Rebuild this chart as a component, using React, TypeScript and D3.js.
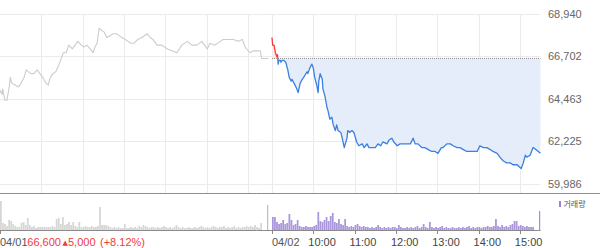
import React from "react";
import * as d3 from "d3";

// ---------- DATA ----------
const dates = ["04/01", "04/02"];
const hourLabels = ["10:00", "11:00", "12:00", "13:00", "14:00", "15:00"];
const yTicks = [59986, 62225, 64463, 66702, 68940];
const prevClose = 66600;
const change = 5000;
const changePct = 8.12;

const day1Times = ["09:00","09:01","09:03","09:04","09:07","09:10","09:13","09:15","09:17","09:22","09:26","09:29","09:32","09:35","09:38","09:41","09:45","09:49","09:54","09:58","10:02","10:07","10:10","10:13","10:17","10:21","10:26","10:29","10:32","10:36","10:40","10:45","10:49","10:53","10:58","11:02","11:06","11:11","11:15","11:18","11:21","11:24","11:27","11:31","11:35","11:40","11:44","11:49","11:53","11:57","12:02","12:06","12:10","12:15","12:20","12:26","12:34","12:38","12:42","12:48","12:55","13:03","13:10","13:17","13:24","13:32","13:39","13:46","13:53","14:01","14:05","14:12","14:20","14:24","14:31","14:39","14:46","14:52","14:56","15:03","15:08","15:13","15:18","15:20","15:30"];
const day1Prices = [64800,64900,64700,65000,64400,64400,65000,65600,65300,65200,65100,65200,65400,65600,66000,65900,65800,65800,66000,65800,65600,65300,65200,65600,65800,65900,66300,66600,66900,66900,67300,67100,67300,67500,67300,67200,67300,67100,66900,67200,67400,68200,68100,68000,67700,67800,67900,67900,67800,67700,67600,67500,67400,67400,67600,67700,67900,67700,67600,67300,67300,67100,67000,66900,67300,67500,67300,67300,67500,67100,67400,67300,67500,67600,67600,67600,67500,67600,67200,66900,67000,67000,67000,66600,66600];

const day2Times = ["09:00","09:01","09:03","09:05","09:07","09:08","09:09","09:10","09:12","09:13","09:15","09:17","09:20","09:23","09:25","09:28","09:29","09:32","09:36","09:38","09:41","09:44","09:46","09:51","09:52","09:55","09:58","10:00","10:02","10:05","10:07","10:08","10:10","10:13","10:14","10:17","10:20","10:21","10:24","10:27","10:29","10:32","10:34","10:36","10:40","10:42","10:45","10:49","10:50","10:53","10:56","10:59","11:03","11:06","11:11","11:14","11:18","11:21","11:25","11:30","11:34","11:38","11:41","11:47","11:50","11:54","11:57","12:02","12:06","12:10","12:16","12:21","12:25","12:28","12:32","12:38","12:42","12:47","12:52","12:57","13:01","13:06","13:08","13:14","13:19","13:23","13:29","13:33","13:38","13:43","13:48","13:52","13:58","14:02","14:07","14:12","14:17","14:21","14:27","14:31","14:36","14:41","14:46","14:50","14:56","14:59","15:02","15:05","15:08","15:10","15:15","15:19","15:20","15:30"];
const day2Prices = [67700,67300,67300,66900,66700,66800,66300,66500,66500,66400,66500,66500,66400,66000,65600,65400,65500,65300,65000,64800,65300,65500,65600,65900,65800,66100,66300,66100,65600,65200,64800,65400,65800,65500,65000,64600,64000,63900,63400,63500,63100,62800,63100,62800,62700,62400,61900,62400,62800,62700,62800,62700,62200,62000,62100,61900,62100,61900,61900,61900,62100,62000,62200,62100,62300,62400,62200,62000,62100,62100,62100,62100,62400,62100,62100,61900,61900,61800,61700,61700,61600,61900,61900,62100,62100,62000,61900,61900,61800,61700,61700,61700,61700,62000,61900,61900,61800,61700,61600,61400,61200,61100,61100,61000,61000,60900,60800,61100,61500,61400,61500,61900,61900,61600];

// volume (thousand shares) per 3-minute bucket from 09:00 to 15:20
const day1Volumes = [29,7,6,4,10,9,6,4,3,3,7,8,5,12,5,3,4,2,3,3,3,3,3,3,3,4,3,11,12,6,13,5,6,8,5,8,4,3,8,3,3,4,3,3,4,3,3,4,23,5,5,5,4,3,2,3,2,3,2,2,6,2,2,3,2,3,2,4,3,5,4,3,2,3,3,2,3,2,3,4,3,2,3,2,3,5,3,2,3,2,2,3,2,2,3,2,3,4,3,2,3,2,3,4,3,2,3,3,4,2,3,2,3,4,2,3,2,3,3,4,3,4,3,5,3,2,7];
const day2Volumes = [13,13,8,6,7,10,6,7,16,10,5,6,10,4,3,3,4,3,3,3,4,5,18,9,8,10,13,9,14,17,8,7,11,6,5,11,4,3,4,3,5,6,4,3,4,3,3,2,3,2,3,5,3,2,3,2,3,2,3,3,2,5,3,2,2,3,2,3,2,3,4,2,3,6,3,2,8,3,2,3,2,3,4,2,3,2,2,3,2,2,3,2,3,2,3,4,2,3,2,3,3,2,3,3,4,3,3,4,11,4,3,5,3,4,3,5,6,9,9,4,5,4,3,4,3,3,3];
// closing auction volume (15:30) of each day
const closingVolumes = [25, 19];

// ---------- LAYOUT ----------
const W = 600;
const H = 248;
const PLOT_R = 540.5;
const DAY_OFFSETS = [0, 395];
const BUCKET = 3;

const toMin = (t: string) => {
  const [h, m] = t.split(":").map(Number);
  return (h - 9) * 60 + m;
};

const FONT = "'Liberation Sans', Arial, sans-serif";

export default function App() {
  const x = d3.scaleLinear().domain([0, 785]).range([0, PLOT_R]);
  const y = d3.scaleLinear().domain([yTicks[0], yTicks[yTicks.length - 1]]).range([184, 14]);
  const yVol = d3.scaleLinear().domain([0, 30]).range([230, 200]);
  const fmt = d3.format(",");

  type Pt = { m: number; p: number };
  const d1: Pt[] = day1Times.map((t, i) => ({ m: DAY_OFFSETS[0] + toMin(t), p: day1Prices[i] }));
  const d2: Pt[] = day2Times.map((t, i) => ({ m: DAY_OFFSETS[1] + toMin(t), p: day2Prices[i] }));

  const line = d3.line<Pt>().x((d) => x(d.m)).y((d) => y(d.p));
  const yRef = y(prevClose);
  const area = d3.area<Pt>().x((d) => x(d.m)).y0(yRef).y1((d) => y(d.p));

  const day2Start = x(DAY_OFFSETS[1]);
  const day2End = x(DAY_OFFSETS[1] + 390);

  const vGrid: number[] = [];
  DAY_OFFSETS.forEach((off, di) => {
    if (di > 0) vGrid.push(x(off));
    hourLabels.forEach((h) => vGrid.push(x(off + toMin(h))));
  });

  const bw = x(BUCKET) - x(0);
  const volBars: { x: number; w: number; v: number; c: string }[] = [];
  [day1Volumes, day2Volumes].forEach((arr, di) => {
    const c = di === 0 ? "#d6d6d6" : "#ab96dc";
    arr.forEach((v, i) => volBars.push({ x: x(DAY_OFFSETS[di] + i * BUCKET), w: bw - 0.3, v, c }));
    volBars.push({ x: x(DAY_OFFSETS[di] + 390) - 1.5, w: 1.2, v: closingVolumes[di], c: di === 0 ? "#bdbdbd" : "#a48dd6" });
  });

  const crisp = (v: number) => Math.round(v) + 0.5;

  return (
    <svg width={W} height={H} style={{ position: "absolute", left: 0, top: 0, display: "block", background: "#fff" }} fontFamily={FONT}>
      <defs>
        <clipPath id="clipUp">
          <rect x={day2Start - 2} y={0} width={day2End - day2Start + 4} height={yRef} />
        </clipPath>
        <clipPath id="clipDown">
          <rect x={day2Start - 2} y={yRef} width={day2End - day2Start + 4} height={200 - yRef} />
        </clipPath>
      </defs>

      {/* grid */}
      {yTicks.map((t) => (
        <line key={"h" + t} x1={0} x2={PLOT_R} y1={crisp(y(t))} y2={crisp(y(t))} stroke="#ebebeb" />
      ))}
      {vGrid.map((gx, i) => (
        <line key={"v" + i} x1={crisp(gx)} x2={crisp(gx)} y1={14} y2={193} stroke="#ebebeb" />
      ))}

      {/* day 2 area */}
      <path d={area(d2) || ""} fill="#e5edfb" clipPath="url(#clipDown)" />
      <path d={area(d2) || ""} fill="#fde8e8" clipPath="url(#clipUp)" />
      <line x1={day2Start} x2={day2End} y1={yRef} y2={yRef} stroke="#8a8a8a" strokeDasharray="1,1" />

      {/* lines */}
      <path d={line(d1) || ""} fill="none" stroke="#cccccc" strokeWidth={1.1} strokeLinejoin="round" />
      <path d={line(d2) || ""} fill="none" stroke="#3b7fe0" strokeWidth={1.3} strokeLinejoin="round" clipPath="url(#clipDown)" />
      <path d={line(d2) || ""} fill="none" stroke="#f03c3c" strokeWidth={1.3} strokeLinejoin="round" clipPath="url(#clipUp)" />

      {/* right axis labels */}
      {yTicks.map((t) => (
        <text key={"yl" + t} x={548} y={y(t) + 4} fontSize={11} fill="#666">{fmt(t)}</text>
      ))}

      {/* separator */}
      <line x1={0} x2={W} y1={193.5} y2={193.5} stroke="#8f8f8f" />

      {/* volume */}
      {volBars.map((b, i) => (
        <rect key={"vb" + i} x={b.x} y={yVol(b.v)} width={b.w} height={230 - yVol(b.v)} fill={b.c} />
      ))}
      <line x1={0} x2={PLOT_R} y1={230.5} y2={230.5} stroke="#8a8a8a" />
      {[x(DAY_OFFSETS[0]), ...vGrid].map((tx, i) => (
        <line key={"tk" + i} x1={crisp(tx)} x2={crisp(tx)} y1={230} y2={234} stroke="#8a8a8a"
          opacity={i === 0 || i >= 7 ? 1 : 0} />
      ))}

      {/* legend */}
      <rect x={559} y={201} width={2} height={6} fill="#9b82d2" />
      <text x={563.5} y={206.5} fontSize={8} fill="#555" fontFamily="'Noto Sans CJK KR', sans-serif">거래량</text>

      {/* bottom labels */}
      <text x={0} y={246} fontSize={11} fill="#555">{dates[0]}</text>
      <text x={27.3} y={246} fontSize={11} fill="#f03c3c">{fmt(prevClose)}</text>
      <text x={62.5} y={245} fontSize={7} fill="#f03c3c" fontFamily="'DejaVu Sans', sans-serif">▲</text>
      <text x={68} y={246} fontSize={11} fill="#f03c3c">{fmt(change)}</text>
      <text x={100} y={246} fontSize={11} fill="#f03c3c">{`(+${changePct.toFixed(2)}%)`}</text>
      <text x={x(DAY_OFFSETS[1])} y={246} fontSize={11} fill="#555">{dates[1]}</text>
      {hourLabels.map((h) => (
        <text key={"hl" + h} x={x(DAY_OFFSETS[1] + toMin(h)) - 5} y={246} fontSize={11} fill="#444">{h}</text>
      ))}
    </svg>
  );
}
